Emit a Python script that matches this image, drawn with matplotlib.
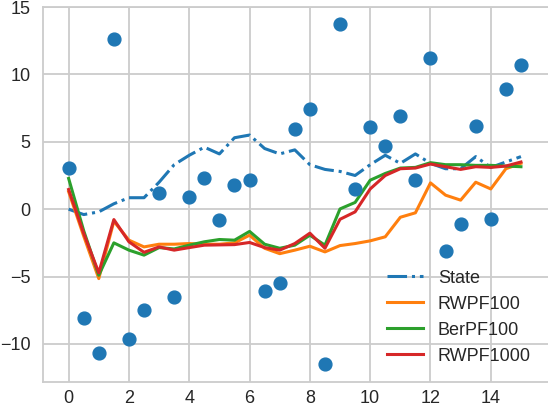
import matplotlib
matplotlib.use("Agg")
import matplotlib.pyplot as plt
import numpy as np

t = np.arange(0, 15.5, 0.5)

observations = [3.06, -8.06, -10.66, 12.61, -9.62, -7.49, 1.21, -6.55, 0.87, 2.32,
                -0.82, 1.76, 2.13, -6.06, -5.5, 5.98, 7.42, -11.52, 13.72, 1.46,
                6.1, 4.7, 6.95, 2.15, 11.25, -3.12, -1.11, 6.16, -0.72, 8.9, 10.66]

state = [0.0, -0.4, -0.2, 0.4, 0.85, 0.85, 2.0, 3.3, 4.0, 4.6,
         4.1, 5.3, 5.5, 4.5, 4.1, 4.4, 3.3, 2.95, 2.8, 2.5,
         3.3, 4.0, 3.4, 4.1, 3.4, 3.0, 3.0, 3.9, 3.1, 3.5, 3.9]

rwpf100 = [1.3, -2.0, -5.15, -0.9, -2.3, -2.8, -2.6, -2.6, -2.55, -2.6,
           -2.6, -2.5, -1.93, -2.9, -3.3, -3.04, -2.75, -3.17, -2.7, -2.55,
           -2.35, -2.05, -0.6, -0.27, 1.95, 1.04, 0.67, 2.0, 1.5, 3.0, 3.4]

berpf100 = [2.28, -1.6, -4.9, -2.5, -3.04, -3.41, -2.85, -2.95, -2.67, -2.42,
            -2.25, -2.3, -1.65, -2.6, -2.9, -2.67, -1.93, -2.67, 0.02, 0.5,
            2.15, 2.65, 3.05, 3.1, 3.45, 3.3, 3.3, 3.25, 3.25, 3.2, 3.15]

rwpf1000 = [1.46, -1.8, -4.72, -0.77, -2.42, -3.2, -2.8, -3.04, -2.85, -2.67,
            -2.65, -2.63, -2.47, -2.85, -3.04, -2.55, -1.78, -2.9, -0.75, -0.2,
            1.5, 2.5, 3.0, 3.05, 3.35, 3.15, 2.95, 3.15, 3.1, 3.2, 3.5]

plt.rcParams['font.family'] = ['Liberation Sans', 'DejaVu Sans']

fig = plt.figure(figsize=(5.48, 4.08), dpi=100)
# right spine falls just outside the picture, as in the cropped original
ax = fig.add_axes([43.3 / 548, 26.3 / 408, 506 / 548, 374.7 / 408])

ax.scatter(t, observations, s=85, color='#1f77b4', zorder=3)
ax.plot(t, state, '-.', color='#1f77b4', lw=2.2, label='State')
ax.plot(t, rwpf100, color='#ff7f0e', lw=2.2, label='RWPF100')
ax.plot(t, berpf100, color='#2ca02c', lw=2.2, label='BerPF100')
ax.plot(t, rwpf1000, color='#d62728', lw=2.2, label='RWPF1000')

ax.set_xlim(-0.84, 15.94)
ax.set_ylim(-12.8, 15.0)
ax.set_xticks([0, 2, 4, 6, 8, 10, 12, 14])
ax.set_yticks([-10, -5, 0, 5, 10, 15])

ax.grid(True, color='#cccccc', lw=1.3)
ax.set_axisbelow(True)
for s in ax.spines.values():
    s.set_color('#cccccc')
    s.set_linewidth(1.3)
ax.tick_params(length=0, labelsize=13, colors='#262626')
ax.tick_params(axis='x', pad=6)
ax.tick_params(axis='y', pad=9)

ax.legend(loc='lower left', bbox_to_anchor=(380 / 548, 36 / 408),
          bbox_transform=fig.transFigure, frameon=False, fontsize=13,
          borderaxespad=0, labelcolor='#262626')

fig.savefig('out.png', dpi=100)
